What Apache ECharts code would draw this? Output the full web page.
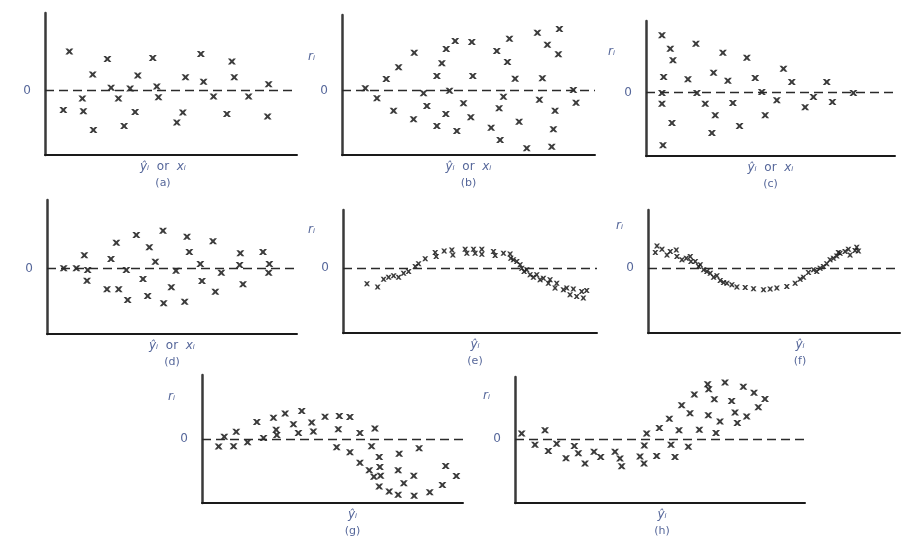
<!DOCTYPE html>
<html><head><meta charset="utf-8">
<script src="https://cdn.jsdelivr.net/npm/echarts@6/dist/echarts.min.js"></script>
<style>html,body{margin:0;padding:0;background:#fff}#c{width:903px;height:540px}</style>
</head><body><div id="c"></div>
<script>
// Residual values (x = fitted value / regressor, y = residual)
const residA = [[73,117],[187,94],[323,97],[467,109],[560,87],[143,48],[278,45],[421,40],[475,26],[567,40],[670,19],[198,8],[255,6],[335,12],[112,-24],[220,-24],[340,-20],[505,-18],[610,-18],[55,-58],[115,-62],[270,-64],[413,-66],[545,-70],[667,-78],[145,-118],[237,-106],[395,-96]];
const residB = [[70,7],[105,-23],[133,35],[170,70],[217,114],[155,-60],[215,-86],[245,-8],[255,-46],[285,44],[300,82],[313,125],[340,149],[390,146],[323,0],[312,-70],[285,-106],[345,-121],[365,-38],[387,-80],[393,44],[465,119],[503,156],[497,86],[520,36],[485,-18],[472,-53],[448,-111],[475,-148],[532,-93],[587,174],[653,185],[617,138],[650,109],[602,37],[593,-27],[640,-60],[635,-116],[555,-173],[630,-168],[695,2],[703,-36]];
const residC = [[48,172],[73,132],[81,97],[150,147],[231,120],[303,105],[53,47],[126,40],[203,60],[246,36],[328,44],[413,72],[438,32],[543,32],[48,-1],[153,-1],[348,2],[48,-33],[178,-33],[261,-31],[393,-23],[503,-13],[478,-44],[560,-28],[623,-1],[208,-68],[358,-68],[78,-91],[281,-100],[198,-121],[51,-158]];
const residD = [[50,1],[88,1],[122,-4],[112,40],[120,-36],[192,29],[208,78],[180,-62],[215,-62],[238,-4],[242,-94],[268,101],[288,-31],[302,-82],[307,64],[325,21],[348,114],[350,-104],[373,-56],[387,-6],[413,-99],[420,96],[427,50],[460,14],[465,-37],[498,82],[505,-69],[523,-12],[580,46],[578,11],[588,-47],[648,50],[667,14],[665,-12]];
const residE = [[72,-47],[104,-57],[122,-33],[137,-27],[152,-23],[167,-27],[182,-15],[197,-10],[217,5],[227,13],[247,28],[277,47],[280,35],[304,52],[327,55],[330,40],[367,57],[372,45],[392,57],[397,45],[417,57],[417,42],[452,50],[457,38],[482,45],[502,43],[504,30],[512,25],[522,20],[532,10],[537,0],[544,-10],[552,-5],[562,-20],[572,-27],[582,-20],[592,-35],[602,-30],[617,-45],[622,-35],[637,-60],[642,-45],[662,-65],[672,-60],[682,-80],[692,-63],[702,-85],[717,-70],[722,-90],[732,-67]];
const residF = [[27,67],[22,47],[42,57],[57,40],[67,50],[85,55],[87,35],[102,25],[115,30],[127,35],[129,20],[142,20],[152,5],[157,10],[167,-5],[177,-10],[187,-15],[197,-27],[207,-23],[217,-37],[227,-43],[237,-45],[252,-50],[267,-57],[292,-58],[317,-62],[347,-65],[367,-63],[387,-60],[417,-55],[442,-45],[457,-33],[467,-27],[482,-13],[497,-5],[507,-10],[517,0],[527,5],[537,13],[547,25],[557,30],[567,37],[577,45],[592,50],[602,57],[607,40],[622,53],[632,52],[627,63],[572,47]];
const residG = [[50,-23],[67,7],[95,-22],[103,22],[137,-10],[165,52],[185,3],[215,65],[223,28],[225,12],[250,78],[275,45],[290,18],[300,85],[330,50],[335,23],[370,68],[413,70],[445,67],[410,30],[475,18],[520,32],[405,-25],[445,-40],[510,-22],[475,-72],[533,-55],[503,-95],[535,-85],[517,-115],[537,-112],[533,-145],[563,-160],[590,-170],[638,-173],[590,-95],[593,-45],[607,-135],[637,-112],[653,-28],[685,-162],[723,-140],[733,-82],[765,-113]];
const residH = [[20,16],[90,26],[60,-18],[100,-37],[125,-15],[153,-59],[178,-22],[190,-44],[210,-75],[237,-39],[257,-55],[300,-39],[315,-60],[320,-83],[375,-54],[387,-75],[388,-20],[395,16],[425,-52],[433,33],[463,61],[468,-18],[480,-55],[492,26],[520,-24],[500,102],[525,78],[538,135],[553,28],[578,166],[581,151],[580,72],[598,120],[603,18],[615,53],[630,171],[650,115],[660,80],[667,48],[685,158],[695,68],[717,140],[730,96],[750,121]];

const panelTags = ['(a)','(b)','(c)','(d)','(e)','(f)','(g)','(h)'];
const xLabelLong = '{i|ŷᵢ}  {n|or}  {i|xᵢ}';
const xLabelShort = '{i|ŷᵢ}';
const zeroLabel = '0';
const rLabel = 'rᵢ';

const TXT = '#56679a';
const INK = '#1a1a1a';
const panels = [
  {d:residA, g:[45,13,252,142], xr:755, y:[-193,232], xl:xLabelLong, sh:-16, r:null, ms:[8,6]},
  {d:residB, g:[342,15,253,140], xr:760, y:[-193,227], xl:xLabelLong, sh:0, r:[315,59], ms:[8,6]},
  {d:residC, g:[646,21,249,135], xr:748, y:[-190,215], xl:xLabelLong, sh:0, r:[615,54], ms:[8,6]},
  {d:residD, g:[47,200,250,134], xr:750, y:[-196,206], xl:xLabelLong, sh:0, r:null, ms:[8,6]},
  {d:residE, g:[343,210,254,123], xr:763, y:[-195,175], xl:xLabelShort, sh:10, r:[315,232], ms:[6,5]},
  {d:residF, g:[648,210,252,123], xr:757, y:[-195,175], xl:xLabelShort, sh:52, r:[623,228], ms:[6,5]},
  {d:residG, g:[202,375,261,130], xr:785, y:[-195,195], xl:xLabelShort, sh:40, r:[175,399], ms:[8,6]},
  {d:residH, g:[515,377,290,127], xr:870, y:[-195,188], xl:xLabelShort, sh:4, r:[490,398], ms:[8,6]}
];
const crossPath = 'path://M0,0L3,0L5,2.5L7,0L10,0L6.8,5L10,10L7,10L5,7.5L3,10L0,10L3.2,5Z';

const grid=[], xAxis=[], yAxis=[], series=[], graphic=[];
panels.forEach((p,i)=>{
  grid.push({left:p.g[0], top:p.g[1], width:p.g[2], height:p.g[3]});
  const sh = p.sh;
  xAxis.push({type:'value', gridIndex:i, min:0, max:p.xr,
    axisLine:{show:true, onZero:false, lineStyle:{color:INK, width:2}},
    axisTick:{show:false}, axisLabel:{show:false}, splitLine:{show:false},
    name:p.xl+'\n{p|'+panelTags[i]+'}', nameLocation:'middle', nameGap:4,
    nameTextStyle:{color:TXT, fontFamily:'DejaVu Sans', fontSize:12, lineHeight:16,
      padding: sh>=0 ? [0,0,0,sh] : [0,-sh,0,0],
      rich:{i:{color:TXT, fontFamily:'DejaVu Sans', fontSize:12, fontStyle:'italic', lineHeight:16},
            n:{color:TXT, fontFamily:'DejaVu Sans', fontSize:12, lineHeight:16},
            p:{color:TXT, fontFamily:'DejaVu Sans', fontSize:11, lineHeight:16}}}
  });
  yAxis.push({type:'value', gridIndex:i, min:p.y[0], max:p.y[1],
    axisLine:{show:true, onZero:false, lineStyle:{color:'#3a3a3a', width:2.5}},
    axisTick:{show:false}, axisLabel:{show:false}, splitLine:{show:false}});
  series.push({type:'scatter', xAxisIndex:i, yAxisIndex:i, data:p.d,
    symbol:crossPath, symbolSize:p.ms, itemStyle:{color:INK, opacity:0.85},
    silent:true, animation:false,
    markLine:{silent:true, symbol:'none', animation:false,
      lineStyle:{color:'#2a2a2a', type:[9,5], width:1.3},
      label:{show:true, position:'start', formatter:zeroLabel, distance:14, color:TXT, fontFamily:'DejaVu Sans', fontSize:12},
      data:[{yAxis:0}]}
  });
  if(p.r){
    graphic.push({type:'text', left:p.r[0]-7, top:p.r[1]-8,
      style:{text:rLabel, fill:TXT, font:'italic 12px DejaVu Sans'}});
  }
});

const chart = echarts.init(document.getElementById('c'), null, {renderer:'canvas'});
chart.setOption({backgroundColor:'#fff', animation:false, grid, xAxis, yAxis, series, graphic});
</script></body></html>
